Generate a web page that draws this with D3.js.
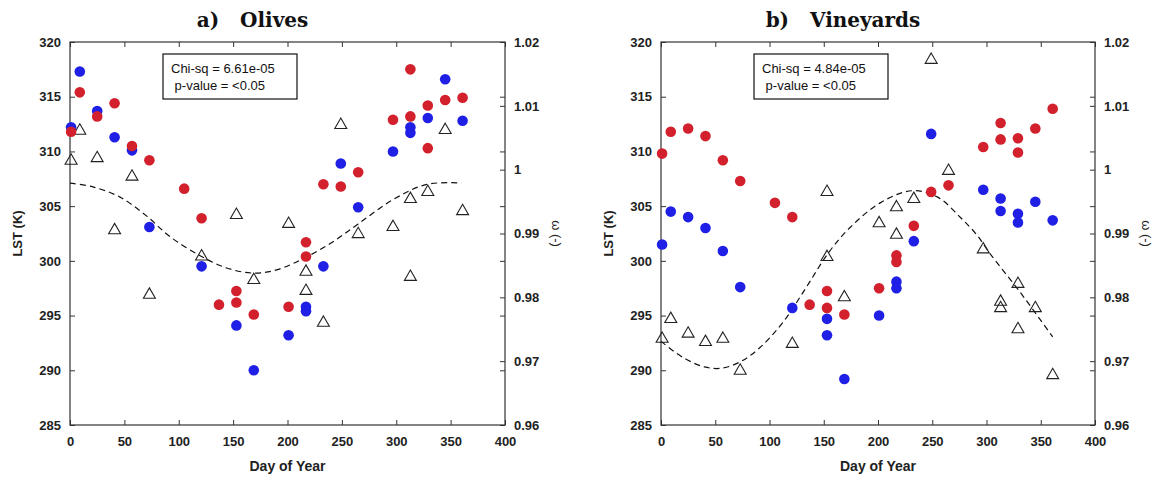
<!DOCTYPE html>
<html><head><meta charset="utf-8">
<script src="https://cdn.jsdelivr.net/npm/d3@7"></script>
<style>body{margin:0;background:#fff}svg{display:block}</style>
</head><body>
<svg id="c" width="1162" height="482"></svg>
<script>
// ---------- data ----------
const xTicks = [0,50,100,150,200,250,300,350,400];
const lstTicks = [285,290,295,300,305,310,315,320];
const omegaTicks = [0.96,0.97,0.98,0.99,1,1.01,1.02];
const omegaTickLabels = ["0.96","0.97","0.98","0.99","1","1.01","1.02"];

// a) Olives
const olivesBlue = [[1,312.2],[9,317.3],[25,313.7],[41,311.3],[57,310.1],[73,303.1],[121,299.5],[153,294.1],[169,290.0],[201,293.2],[217,295.8],[217,295.4],[233,299.5],[249,308.9],[265,304.9],[297,310.0],[313,312.2],[313,311.7],[329,313.05],[345,316.6],[361,312.8]];
const olivesRed = [[1,311.8],[9,315.4],[25,313.2],[41,314.4],[57,310.5],[73,309.2],[105,306.6],[121,303.9],[137,296.0],[153,297.25],[153,296.2],[169,295.1],[201,295.8],[217,301.7],[217,300.4],[233,307.0],[249,306.8],[265,308.1],[297,312.9],[313,317.5],[313,313.2],[329,314.2],[329,310.3],[345,314.7],[361,314.9]];
const olivesOmega = [[1,1.0014],[9,1.0061],[25,1.0018],[41,0.9905],[57,0.9989],[73,0.9804],[121,0.9864],[153,0.9929],[169,0.9827],[201,0.9915],[217,0.9840],[217,0.9810],[233,0.9760],[249,1.0070],[265,0.9899],[297,0.9910],[313,0.9954],[313,0.9832],[329,0.9965],[345,1.0062],[361,0.9935]];
const olivesFit = [[0,0.9979],[21,0.9973],[46,0.9957],[70,0.9928],[92,0.9895],[121,0.9864],[144,0.9846],[168,0.9838],[190,0.9843],[216,0.9862],[240,0.9885],[265,0.9915],[296,0.9952],[328,0.9977],[360,0.9979]];

// b) Vineyards
const vineBlue = [[1,301.5],[9,304.5],[25,304.0],[41,303.0],[57,300.9],[73,297.6],[121,295.7],[153,294.7],[153,293.2],[169,289.2],[201,295.0],[217,298.1],[217,297.5],[233,301.8],[249,311.6],[297,306.5],[313,305.7],[313,304.55],[329,304.3],[329,303.5],[345,305.4],[361,303.7]];
const vineRed = [[1,309.8],[9,311.8],[25,312.1],[41,311.4],[57,309.2],[73,307.3],[105,305.3],[121,304.0],[137,296.0],[153,297.25],[153,295.7],[169,295.1],[201,297.5],[217,300.5],[217,299.9],[233,303.2],[249,306.3],[265,306.9],[297,310.4],[313,312.6],[313,311.1],[329,311.2],[329,309.9],[345,312.1],[361,313.9]];
const vineOmega = [[1,0.9735],[9,0.9766],[25,0.9743],[41,0.9730],[57,0.9735],[73,0.9685],[121,0.9727],[153,0.9863],[153,0.9965],[169,0.9800],[201,0.9916],[217,0.9941],[217,0.9898],[233,0.9954],[249,1.0172],[265,0.9998],[297,0.9875],[313,0.9793],[313,0.9783],[329,0.9821],[329,0.9750],[345,0.9783],[361,0.9678]];
const vineFit = [[0,0.9731],[20,0.9706],[40,0.9691],[56,0.9689],[73,0.9699],[91,0.9721],[112,0.9760],[134,0.9816],[154,0.9869],[174,0.9909],[202,0.9948],[231,0.9967],[255,0.9957],[276,0.9925],[291,0.9898],[303,0.9869],[331,0.9808],[361,0.9738]];

const titles = ["a)   Olives","b)   Vineyards"];
const statsText = [["Chi-sq = 6.61e-05"," p-value = <0.05"],["Chi-sq = 4.84e-05"," p-value = <0.05"]];

// ---------- drawing ----------
const svg = d3.select("#c");
const RED = "#d2202c", BLUE = "#1f1fe6", FRAME = "#333";
const tickFont = "bold 13px 'Liberation Sans', Arial, sans-serif";

function panel(opts) {
  const {x0, x1, y0, y1, blue, red, omega, fit, title, stats} = opts;
  const x = d3.scaleLinear().domain([0,400]).range([x0,x1]);
  const yL = d3.scaleLinear().domain([285,320]).range([y1,y0]);
  const yR = d3.scaleLinear().domain([0.96,1.02]).range([y1,y0]);
  const g = svg.append("g");
  const TL = 5;

  // axes via d3
  const axB = d3.axisBottom(x).tickValues(xTicks).tickSize(-TL).tickPadding(9);
  const axT = d3.axisTop(x).tickValues(xTicks).tickSize(-TL).tickFormat("");
  const axL = d3.axisLeft(yL).tickValues(lstTicks).tickSize(-TL).tickPadding(9);
  const axL2 = d3.axisRight(yL).tickValues(lstTicks).tickSize(-TL).tickFormat("");
  const axR = d3.axisRight(yR).tickValues(omegaTicks).tickSize(-TL).tickPadding(9)
      .tickFormat((d,i)=>omegaTickLabels[i]);

  const style = a => {
    a.select(".domain").attr("stroke", FRAME).attr("stroke-width",1.2);
    a.selectAll(".tick line").attr("stroke", FRAME);
    a.selectAll(".tick text").style("font", tickFont).attr("fill","#222");
  };
  g.append("g").attr("transform",`translate(0,${y1})`).call(axB).call(style)
    .selectAll(".tick text").attr("dy","0.9em");
  g.append("g").attr("transform",`translate(0,${y0})`).call(axT).call(style);
  g.append("g").attr("transform",`translate(${x0},0)`).call(axL).call(style);
  g.append("g").attr("transform",`translate(${x1},0)`).call(axL2).call(style);
  g.append("g").attr("transform",`translate(${x1},0)`).call(axR).call(style);
  g.selectAll(".domain").attr("d", null);
  g.append("rect").attr("x",x0).attr("y",y0).attr("width",x1-x0).attr("height",y1-y0)
    .attr("fill","none").attr("stroke",FRAME).attr("stroke-width",1.2);

  // fitted dashed line (omega axis)
  const line = d3.line().x(d=>x(d[0])).y(d=>yR(d[1])).curve(d3.curveCatmullRom);
  g.append("path").datum(fit).attr("d",line).attr("fill","none")
    .attr("stroke","#111").attr("stroke-width",1.2).attr("stroke-dasharray","6,4");

  // triangles
  const tri = d3.symbol().type(d3.symbolTriangle).size(62);
  g.selectAll(".tri").data(omega).join("path")
    .attr("transform",d=>`translate(${x(d[0])},${yR(d[1])})`)
    .attr("d",tri).attr("fill","none").attr("stroke","#222").attr("stroke-width",1.1);

  // circles
  g.selectAll(".b").data(blue).join("circle")
    .attr("cx",d=>x(d[0])).attr("cy",d=>yL(d[1])).attr("r",5.3).attr("fill",BLUE);
  g.selectAll(".r").data(red).join("circle")
    .attr("cx",d=>x(d[0])).attr("cy",d=>yL(d[1])).attr("r",5.3).attr("fill",RED);

  // stats box
  const bx = x0 + 93, by = y0 + 12, bw = 134, bh = 45;
  g.append("rect").attr("x",bx).attr("y",by).attr("width",bw).attr("height",bh)
    .attr("fill","#fff").attr("stroke","#111").attr("stroke-width",1.2);
  stats.forEach((s,i)=>{
    g.append("text").attr("x",bx+8).attr("y",by+19+i*17).text(s)
      .style("font","13px 'Liberation Sans', Arial, sans-serif").attr("fill","#111")
      .attr("xml:space","preserve").style("white-space","pre");
  });

  // labels
  g.append("text").attr("x",(x0+x1)/2 - 35).attr("y",27).attr("text-anchor","middle")
    .text(title).style("font","bold 20px 'DejaVu Serif', 'Liberation Serif', serif")
    .style("white-space","pre").attr("fill","#111");
  g.append("text").attr("transform",`translate(${x0-48},${(y0+y1)/2}) rotate(-90)`)
    .attr("text-anchor","middle").text("LST (K)")
    .style("font","bold 13px 'Liberation Sans', Arial, sans-serif").attr("fill","#222");
  g.append("text").attr("transform",`translate(${x1+47},${(y0+y1)/2}) rotate(90)`)
    .attr("text-anchor","middle").text("\u03C9 (-)")
    .style("font","13px 'Liberation Sans', Arial, sans-serif").attr("fill","#222");
  g.append("text").attr("x",(x0+x1)/2).attr("y",y1+46).attr("text-anchor","middle")
    .text("Day of Year").style("font","bold 14px 'Liberation Sans', Arial, sans-serif").attr("fill","#222");
}

panel({x0:70, x1:505, y0:42, y1:425, blue:olivesBlue, red:olivesRed, omega:olivesOmega, fit:olivesFit, title:titles[0], stats:statsText[0]});
panel({x0:661, x1:1095, y0:42, y1:425, blue:vineBlue, red:vineRed, omega:vineOmega, fit:vineFit, title:titles[1], stats:statsText[1]});
</script>
</body></html>
